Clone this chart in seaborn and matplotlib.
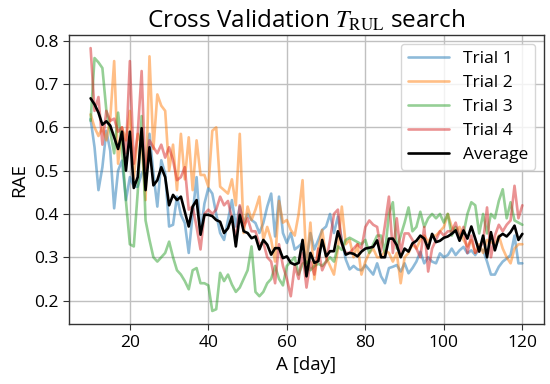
import numpy as np
import pandas as pd
import matplotlib
matplotlib.use("Agg")
import matplotlib.pyplot as plt
import seaborn as sns

days = list(range(10, 121))

trial_1 = [0.619, 0.554, 0.455, 0.508, 0.592, 0.546, 0.413, 0.50, 0.523, 0.432,
           0.485, 0.463, 0.463, 0.493, 0.508, 0.585, 0.493, 0.417, 0.524, 0.493,
           0.371, 0.375, 0.44, 0.398, 0.379, 0.31, 0.40, 0.485, 0.356, 0.424,
           0.46, 0.447, 0.40, 0.356, 0.34, 0.386, 0.432, 0.371, 0.417, 0.379,
           0.40, 0.386, 0.379, 0.356, 0.379, 0.417, 0.447, 0.348, 0.44, 0.356,
           0.333, 0.356, 0.318, 0.325, 0.333, 0.287, 0.356, 0.318, 0.34, 0.363,
           0.371, 0.40, 0.356, 0.394, 0.34, 0.295, 0.272, 0.28, 0.272, 0.27,
           0.282, 0.271, 0.26, 0.286, 0.256, 0.24, 0.275, 0.278, 0.282, 0.267,
           0.286, 0.263, 0.275, 0.29, 0.313, 0.286, 0.30, 0.29, 0.286, 0.309,
           0.30, 0.305, 0.32, 0.305, 0.316, 0.324, 0.309, 0.316, 0.305, 0.32,
           0.316, 0.29, 0.26, 0.26, 0.278, 0.29, 0.297, 0.305, 0.35, 0.286,
           0.286]

trial_2 = [0.63, 0.60, 0.58, 0.60, 0.57, 0.62, 0.753, 0.516, 0.60, 0.57,
           0.638, 0.48, 0.585, 0.56, 0.432, 0.764, 0.55, 0.676, 0.65, 0.638,
           0.50, 0.56, 0.455, 0.585, 0.48, 0.577, 0.455, 0.57, 0.49, 0.49,
           0.463, 0.592, 0.60, 0.463, 0.455, 0.447, 0.48, 0.42, 0.585, 0.356,
           0.417, 0.386, 0.41, 0.44, 0.34, 0.37, 0.34, 0.29, 0.43, 0.38,
           0.386, 0.363, 0.35, 0.40, 0.478, 0.28, 0.38, 0.249, 0.32, 0.363,
           0.30, 0.28, 0.26, 0.32, 0.417, 0.33, 0.34, 0.30, 0.33, 0.26,
           0.29, 0.31, 0.32, 0.30, 0.30, 0.315, 0.31, 0.29, 0.31, 0.24,
           0.30, 0.31, 0.33, 0.32, 0.34, 0.35, 0.335, 0.35, 0.35, 0.36,
           0.37, 0.40, 0.37, 0.36, 0.37, 0.34, 0.325, 0.34, 0.31, 0.33,
           0.31, 0.34, 0.335, 0.33, 0.35, 0.32, 0.30, 0.286, 0.32, 0.33,
           0.33]

trial_3 = [0.615, 0.76, 0.75, 0.737, 0.64, 0.59, 0.54, 0.634, 0.55, 0.43,
           0.33, 0.325, 0.45, 0.626, 0.385, 0.34, 0.30, 0.29, 0.30, 0.31,
           0.336, 0.30, 0.27, 0.26, 0.245, 0.226, 0.27, 0.275, 0.24, 0.24,
           0.235, 0.176, 0.18, 0.264, 0.245, 0.26, 0.237, 0.22, 0.23, 0.25,
           0.27, 0.325, 0.22, 0.21, 0.22, 0.24, 0.25, 0.28, 0.25, 0.235,
           0.28, 0.29, 0.30, 0.26, 0.285, 0.29, 0.27, 0.28, 0.285, 0.28,
           0.29, 0.30, 0.29, 0.325, 0.317, 0.34, 0.345, 0.34, 0.335, 0.33,
           0.34, 0.31, 0.33, 0.35, 0.35, 0.31, 0.40, 0.427, 0.32, 0.35,
           0.38, 0.415, 0.36, 0.37, 0.405, 0.37, 0.39, 0.40, 0.39, 0.40,
           0.38, 0.40, 0.35, 0.37, 0.35, 0.355, 0.40, 0.427, 0.42, 0.355,
           0.40, 0.355, 0.40, 0.39, 0.43, 0.457, 0.39, 0.427, 0.385, 0.38,
           0.375]

trial_4 = [0.783, 0.638, 0.67, 0.56, 0.638, 0.615, 0.62, 0.59, 0.60, 0.54,
           0.753, 0.516, 0.585, 0.73, 0.478, 0.57, 0.554, 0.54, 0.56, 0.53,
           0.554, 0.524, 0.478, 0.485, 0.508, 0.41, 0.417, 0.37, 0.318, 0.40,
           0.41, 0.40, 0.41, 0.44, 0.42, 0.43, 0.39, 0.34, 0.42, 0.37,
           0.39, 0.36, 0.36, 0.33, 0.335, 0.30, 0.29, 0.24, 0.33, 0.28,
           0.25, 0.21, 0.28, 0.25, 0.31, 0.23, 0.29, 0.26, 0.32, 0.27,
           0.29, 0.34, 0.40, 0.41, 0.33, 0.31, 0.31, 0.32, 0.33, 0.32,
           0.37, 0.385, 0.375, 0.37, 0.315, 0.375, 0.44, 0.31, 0.39, 0.31,
           0.355, 0.355, 0.34, 0.32, 0.30, 0.37, 0.267, 0.32, 0.34, 0.36,
           0.35, 0.36, 0.36, 0.38, 0.345, 0.37, 0.31, 0.35, 0.31, 0.32,
           0.335, 0.415, 0.30, 0.35, 0.375, 0.36, 0.375, 0.385, 0.465, 0.39,
           0.42]

average = [0.667, 0.653, 0.634, 0.606, 0.614, 0.604, 0.577, 0.55, 0.59, 0.50,
           0.59, 0.46, 0.485, 0.598, 0.455, 0.554, 0.466, 0.478, 0.508, 0.485,
           0.42, 0.444, 0.432, 0.44, 0.405, 0.371, 0.417, 0.432, 0.352, 0.398,
           0.398, 0.395, 0.386, 0.382, 0.356, 0.367, 0.394, 0.325, 0.398, 0.36,
           0.356, 0.344, 0.348, 0.318, 0.34, 0.329, 0.306, 0.321, 0.321, 0.298,
           0.302, 0.287, 0.283, 0.287, 0.34, 0.256, 0.31, 0.287, 0.291, 0.34,
           0.302, 0.314, 0.314, 0.36, 0.333, 0.306, 0.31, 0.308, 0.302, 0.313,
           0.32, 0.322, 0.324, 0.339, 0.30, 0.30, 0.343, 0.343, 0.328, 0.30,
           0.32, 0.313, 0.332, 0.338, 0.35, 0.343, 0.32, 0.354, 0.335, 0.338,
           0.345, 0.348, 0.354, 0.362, 0.338, 0.362, 0.343, 0.371, 0.343, 0.313,
           0.35, 0.30, 0.358, 0.316, 0.347, 0.354, 0.348, 0.358, 0.373, 0.34,
           0.354]

series_names = ["Trial 1", "Trial 2", "Trial 3", "Trial 4"]
series_values = [trial_1, trial_2, trial_3, trial_4]
colors = ["#1f77b4", "#ff7f0e", "#2ca02c", "#d62728"]

sns.set_style("ticks")
plt.rcParams['font.family'] = ['Open Sans', 'DejaVu Sans']
plt.rcParams['mathtext.fontset'] = 'stix'
plt.rcParams['text.color'] = 'black'
plt.rcParams['axes.labelcolor'] = 'black'
plt.rcParams['xtick.color'] = 'black'
plt.rcParams['ytick.color'] = 'black'

fig = plt.figure(figsize=(5.5, 3.84), dpi=100)
ax = fig.add_axes([0.1255, 0.156, 0.8635, 0.753])

for name, vals, c in zip(series_names, series_values, colors):
    sns.lineplot(x=days, y=vals, ax=ax, color=c, alpha=0.5, linewidth=1.9, label=name)
sns.lineplot(x=days, y=average, ax=ax, color="black", linewidth=1.9, label="Average")

ax.set_xticks([20, 40, 60, 80, 100, 120])
ax.set_yticks([0.2, 0.3, 0.4, 0.5, 0.6, 0.7, 0.8])
ax.grid(True, color="#c0c0c0", linewidth=1)
ax.tick_params(labelsize=12.5, length=4, color="#333333")
for s in ax.spines.values():
    s.set_color("#333333")
    s.set_linewidth(1.0)

ax.set_xlabel("A [day]", fontsize=13.5)
ax.set_ylabel("RAE", fontsize=13.5)
ax.set_title(r"Cross Validation $T_{\mathrm{RUL}}$ search", fontsize=17.5, pad=5)
ax.legend(loc="upper right", fontsize=12.5, handlelength=2.4, framealpha=0.8,
          labelspacing=0.45)

fig.savefig("out.png", dpi=100)
